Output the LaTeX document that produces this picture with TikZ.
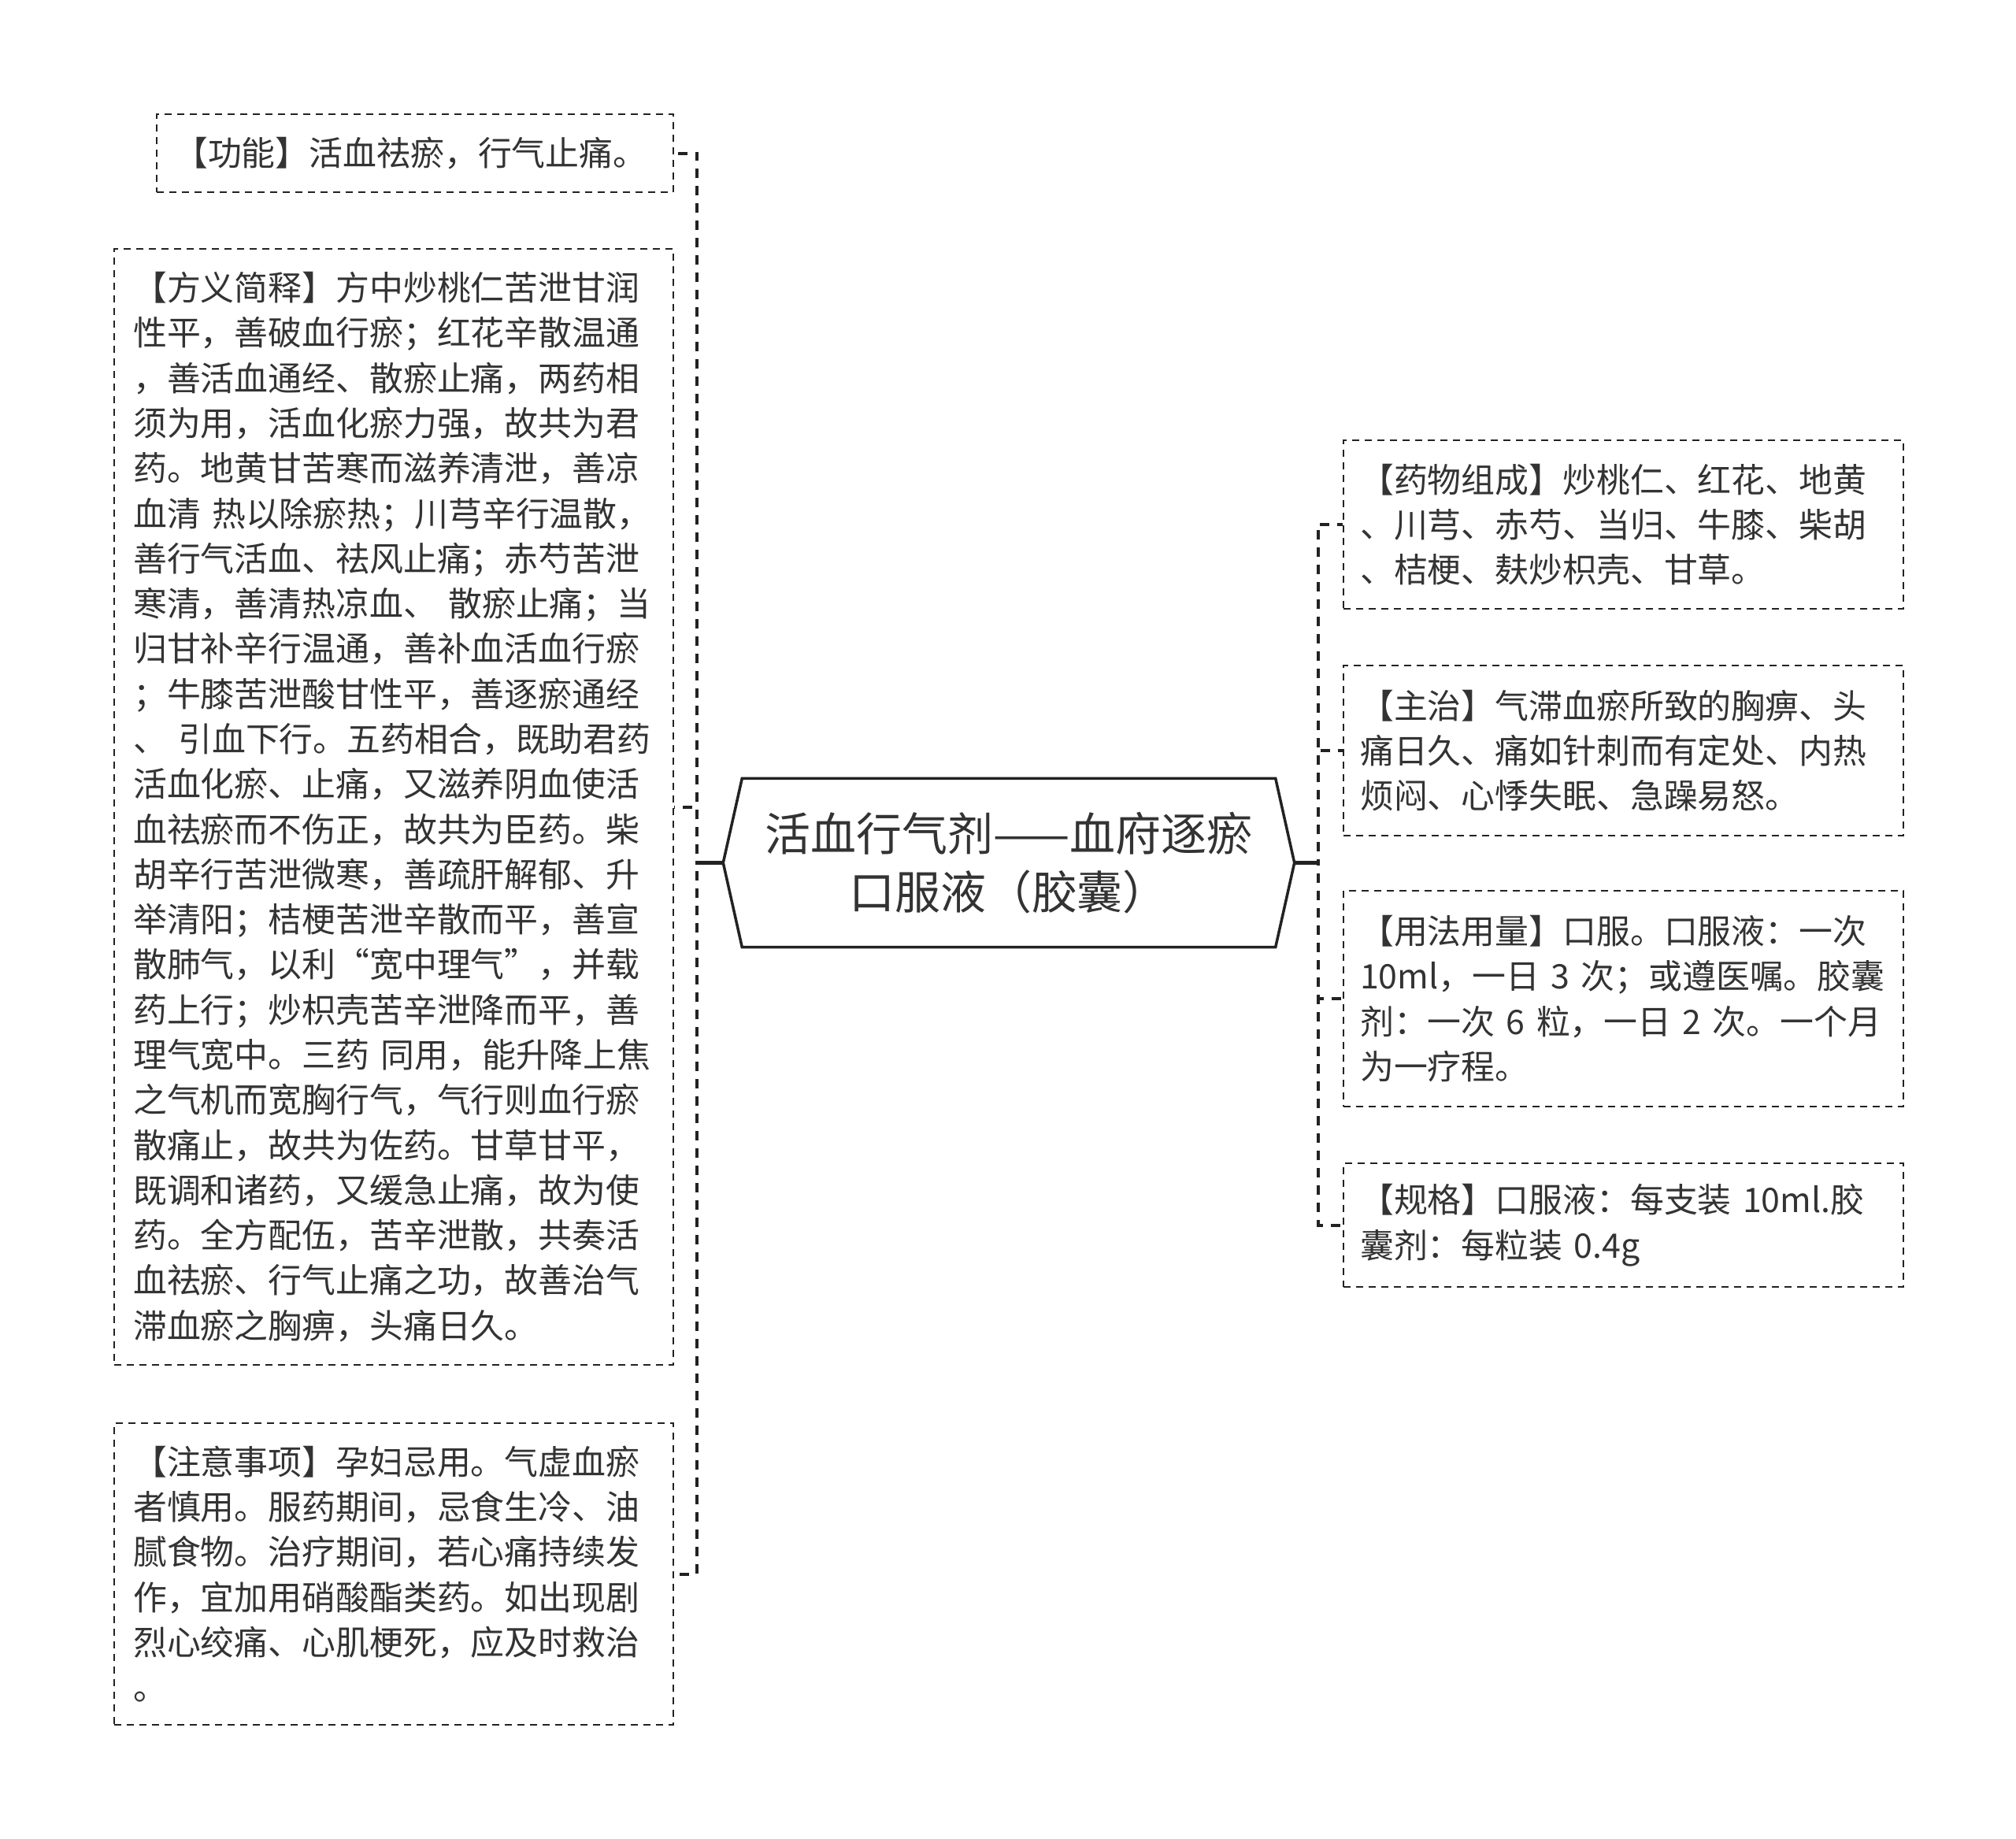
\documentclass[tikz,border=0pt]{standalone}
\usepackage{fontspec}
\setmainfont{Noto Sans CJK SC}
\usepackage{tikz}
\usetikzlibrary{positioning}
\usepackage{xcolor}

\definecolor{txtcol}{HTML}{333333}
\definecolor{linecol}{HTML}{222222}

\tikzset{
  infobox/.style={draw=linecol, line width=0.65pt, dash pattern=on 0.09cm off 0.07cm,
    text=txtcol, font=\fontsize{12.2pt}{16.3pt}\selectfont, align=left,
    anchor=north west, inner ysep=0pt},
  leftbox/.style={infobox, text width=6.62cm, inner xsep=0.24cm},
  rightbox/.style={infobox, text width=6.69cm, inner xsep=0.21cm},
  roottext/.style={text=txtcol, font=\fontsize{16.5pt}{20.9pt}\selectfont, align=center,
    minimum width=7.24cm, minimum height=2.13cm, inner sep=0pt},
  hexline/.style={draw=linecol, line width=1.0pt, line join=miter},
  link/.style={draw=linecol, line width=1.15pt, dash pattern=on 0.12cm off 0.10cm},
  rootstub/.style={draw=linecol, line width=1.15pt}
}

\begin{document}
\begin{tikzpicture}
\path[fill=white] (0,0) rectangle (25.60,23.35);
\useasboundingbox (0,0) rectangle (25.60,23.35);

%Root
\node[roottext] (root) at (12.81,12.395) {活血行气剂——血府逐瘀\\口服液（胶囊）};
\draw[hexline] ([xshift=0.24cm]root.north west) -- ([xshift=-0.24cm]root.north east)
  -- (root.east) -- ([xshift=-0.24cm]root.south east)
  -- ([xshift=0.24cm]root.south west) -- (root.west) -- cycle;

%Left side
\node[infobox, text width=6.12cm, inner xsep=0.22cm, minimum height=0.99cm] (gongneng) at (1.98,21.91) {【功能】活血祛瘀，行气止痛。};

\node[leftbox, minimum height=14.17cm] (fangyi) at (1.44,20.20) {【方义简释】方中炒桃仁苦泄甘润\\
性平，善破血行瘀；红花辛散温通\\
，善活血通经、散瘀止痛，两药相\\
须为用，活血化瘀力强，故共为君\\
药。地黄甘苦寒而滋养清泄，善凉\\
血清 热以除瘀热；川芎辛行温散，\\
善行气活血、祛风止痛；赤芍苦泄\\
寒清，善清热凉血、 散瘀止痛；当\\
归甘补辛行温通，善补血活血行瘀\\
；牛膝苦泄酸甘性平，善逐瘀通经\\
、 引血下行。五药相合，既助君药\\
活血化瘀、止痛，又滋养阴血使活\\
血祛瘀而不伤正，故共为臣药。柴\\
胡辛行苦泄微寒，善疏肝解郁、升\\
举清阳；桔梗苦泄辛散而平，善宣\\
散肺气，以利“宽中理气”，并载\\
药上行；炒枳壳苦辛泄降而平，善\\
理气宽中。三药 同用，能升降上焦\\
之气机而宽胸行气，气行则血行瘀\\
散痛止，故共为佐药。甘草甘平，\\
既调和诸药，又缓急止痛，故为使\\
药。全方配伍，苦辛泄散，共奏活\\
血祛瘀、行气止痛之功，故善治气\\
滞血瘀之胸痹，头痛日久。};

\node[leftbox, minimum height=3.83cm] (zhuyi) at (1.44,5.29) {【注意事项】孕妇忌用。气虚血瘀\\
者慎用。服药期间，忌食生冷、油\\
腻食物。治疗期间，若心痛持续发\\
作，宜加用硝酸酯类药。如出现剧\\
烈心绞痛、心肌梗死，应及时救治\\
。};

%Right side
\node[rightbox, minimum height=2.14cm] (zucheng) at (17.05,17.77) {【药物组成】炒桃仁、红花、地黄\\
、川芎、赤芍、当归、牛膝、柴胡\\
、桔梗、麸炒枳壳、甘草。};

\node[rightbox, minimum height=2.16cm] (zhuzhi) at (17.05,14.91) {【主治】气滞血瘀所致的胸痹、头\\
痛日久、痛如针刺而有定处、内热\\
烦闷、心悸失眠、急躁易怒。};

\node[rightbox, minimum height=2.74cm] (yongfa) at (17.05,12.05) {【用法用量】口服。口服液：一次\\
10ml，一日 3 次；或遵医嘱。胶囊\\
剂：一次 6 粒，一日 2 次。一个月\\
为一疗程。};

\node[rightbox, minimum height=1.57cm] (guige) at (17.05,8.59) {【规格】口服液：每支装 10ml.胶\\
囊剂：每粒装 0.4g};

%Connectors
\draw[link] (root.west) -- ++(-0.33,0) |- (gongneng.east);
\draw[link] (root.west) -- ++(-0.33,0) |- (fangyi.east);
\draw[link] (root.west) -- ++(-0.33,0) |- (zhuyi.east);
\draw[rootstub] (root.west) -- ++(-0.33,0);

\draw[link] (root.east) -- ++(0.30,0) |- (zucheng.west);
\draw[link] (root.east) -- ++(0.30,0) |- (zhuzhi.west);
\draw[link] (root.east) -- ++(0.30,0) |- (yongfa.west);
\draw[link] (root.east) -- ++(0.30,0) |- (guige.west);
\draw[rootstub] (root.east) -- ++(0.30,0);
\end{tikzpicture}
\end{document}
